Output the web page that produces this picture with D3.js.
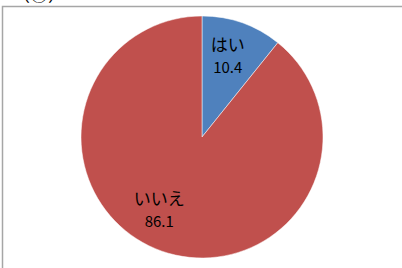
<!DOCTYPE html>
<html>
<head>
<meta charset="utf-8">
<script src="https://cdn.jsdelivr.net/npm/d3@7"></script>
<style>
  body { margin: 0; background: #fff; }
  text { font-family: "Noto Sans CJK JP", "Noto Sans", sans-serif; }
</style>
</head>
<body>
<script>
// slice data
var categories = ['はい', 'いいえ']
var values = [10.4, 86.1]
var colors = ['#4F81BD', '#C0504D']

var width = 402, height = 268
var cx = 202, cy = 137, radius = 121

var svg = d3.select('body').append('svg').attr('width', width).attr('height', height)

// heading, cut off at the top like in the source screenshot
svg.append('text').attr('x', 12).attr('y', 1).attr('font-size', 18).attr('fill', '#000')
   .text('（③）・・・・')

// chart frame
svg.append('rect').attr('x', 2.5).attr('y', 6.5).attr('width', 420).attr('height', 280)
   .attr('fill', 'none').attr('stroke', '#a6a6a6').attr('stroke-width', 1.5)

var pie = d3.pie().sort(null).value(d => d)
var arcs = pie(values)
var arc = d3.arc().innerRadius(0).outerRadius(radius)

var g = svg.append('g').attr('transform', 'translate(' + cx + ',' + cy + ')')

g.selectAll('path').data(arcs).enter().append('path')
 .attr('d', arc)
 .attr('fill', (d, i) => colors[i])
 .attr('stroke', '#fff').attr('stroke-width', 0.5)

// labels: excel places the big slice label a bit further round
var nudge = [-0.03, 0.19]
var labels = g.selectAll('.lbl').data(arcs).enter().append('g').attr('class', 'lbl')
  .attr('transform', function(d, i) {
      var a = (d.startAngle + d.endAngle) / 2 + nudge[i]
      var r = radius * 0.7
      return 'translate(' + (r * Math.sin(a)) + ',' + (-r * Math.cos(a)) + ')'
  })
labels.append('text').attr('text-anchor', 'middle').attr('y', -5)
  .attr('font-size', 17).attr('fill', '#000')
  .text((d, i) => categories[i])
labels.append('text').attr('text-anchor', 'middle').attr('y', 17)
  .attr('font-size', 15).attr('fill', '#000')
  .text(d => d.data.toFixed(1))
</script>
</body>
</html>
